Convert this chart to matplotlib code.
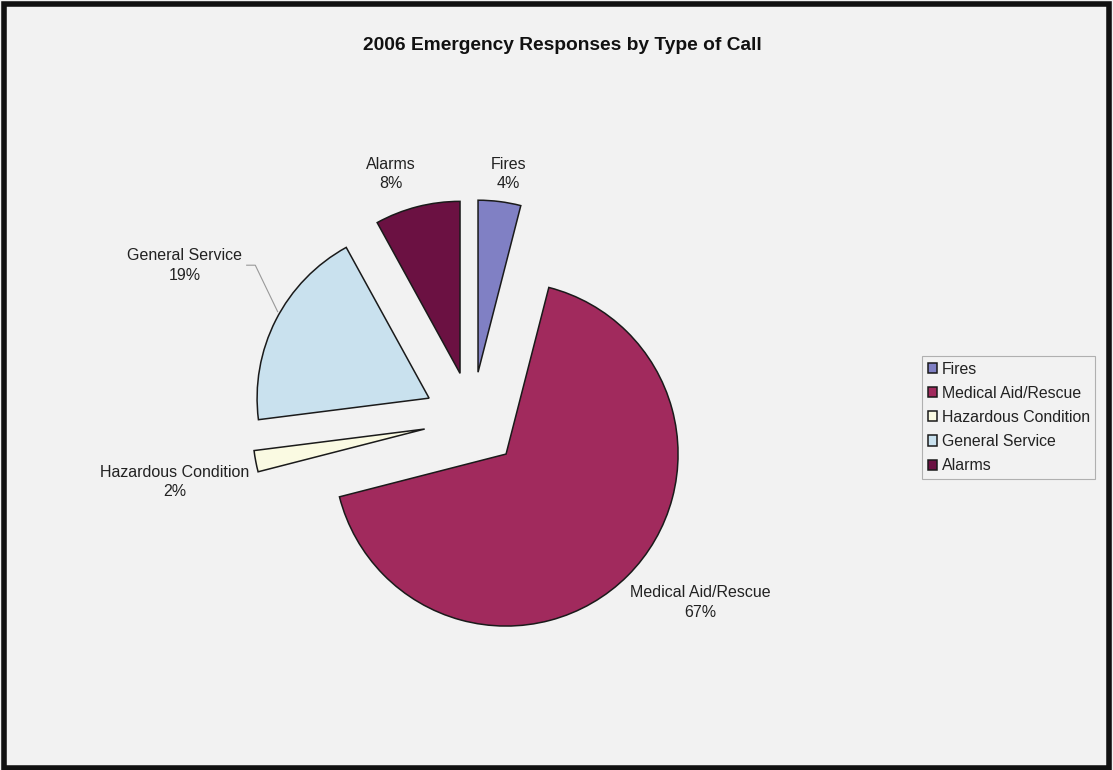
import numpy as np
import matplotlib
matplotlib.use("Agg")
import matplotlib.pyplot as plt
from matplotlib.patches import Rectangle

plt.rcParams['font.family'] = ['Liberation Sans', 'DejaVu Sans']

# datos
categorias = ["Fires", "Medical Aid/Rescue", "Hazardous Condition", "General Service", "Alarms"]
porcentajes = [4, 67, 2, 19, 8]
colores = ["#8080c4", "#a12a5d", "#fafae2", "#c9e1ee", "#6b1142"]

# posiciones de las etiquetas (unidades de radio, centro del pastel = 0,0)
pos_etiquetas = [(0.21, 1.43), (1.33, -1.06), (-1.73, -0.36), (-1.67, 0.90), (-0.47, 1.43)]

fondo = "#f2f2f2"
fig = plt.figure(figsize=(11.13, 7.7), dpi=100, facecolor=fondo)

# eje cuadrado de 600x600 px centrado en el pastel (472, 420)
ax = fig.add_axes([172/1113, 50/770, 600/1113, 600/770])
ax.set_facecolor(fondo)

wedges, _ = ax.pie(porcentajes, colors=colores, startangle=90, counterclock=False,
                   explode=[0.28]*len(porcentajes), radius=1,
                   wedgeprops=dict(edgecolor="#1a1a1a", linewidth=1.1))

lim = 300/172
ax.set_xlim(-lim, lim)
ax.set_ylim(-lim, lim)
ax.set_aspect("equal")
ax.axis("off")

for nombre, p, (x, y) in zip(categorias, porcentajes, pos_etiquetas):
	ax.text(x, y, f"{nombre}\n{p}%", ha="center", va="center", fontsize=11.5,
	        color="#222222", linespacing=1.4)

# linea guia de General Service
ax.plot([-1.31, -1.26, -1.13], [0.90, 0.90, 0.63], color="#999999", lw=0.8)

fig.text(562/1113, 1 - 46/770, "2006 Emergency Responses by Type of Call",
         ha="center", va="center", fontsize=13.8, fontweight="bold", color="#111111")

leg = fig.legend(wedges, categorias, loc="upper left",
                 bbox_to_anchor=(922/1113, 1 - 356/770), fontsize=11.4,
                 frameon=True, fancybox=False, handlelength=0.6, handleheight=0.6,
                 handletextpad=0.3, labelspacing=0.58, borderpad=0.35, borderaxespad=0)
leg.get_frame().set_edgecolor("#a0a0a0")
leg.get_frame().set_facecolor(fondo)
leg.get_frame().set_linewidth(0.8)
for t in leg.get_texts():
	t.set_color("#222222")

# marco negro
fig.patches.append(Rectangle((0.004, 0.003), 0.992, 0.992, transform=fig.transFigure,
                             fill=False, edgecolor="#111111", linewidth=4))

fig.savefig("out.png", dpi=100, facecolor=fondo)
